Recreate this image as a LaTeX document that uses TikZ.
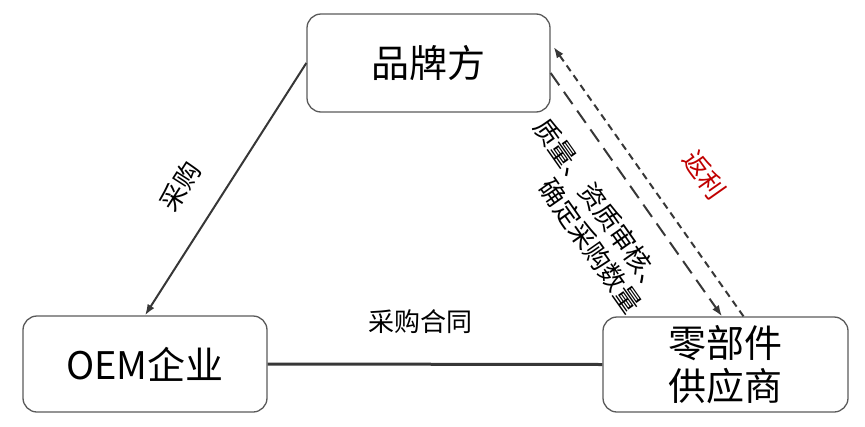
\documentclass[tikz,border=0pt]{standalone}
\usepackage{fontspec}
\setmainfont{Noto Sans CJK SC}
\usetikzlibrary{arrows.meta}
\definecolor{boxgray}{RGB}{90,90,90}
\definecolor{linegray}{RGB}{55,55,55}
\definecolor{rebatered}{RGB}{192,0,0}

\begin{document}
\begin{tikzpicture}[x=1pt,y=1pt,
  party/.style={draw=boxgray, line width=1.3pt, rounded corners=14pt, align=center,
    font=\fontsize{38}{43}\selectfont},
  tag/.style={font=\fontsize{26}{31}\selectfont, inner sep=0pt},
  flow/.style={draw=linegray, line width=2pt, -{Latex[length=11pt,width=8pt]}}]
  \useasboundingbox (0,0) rectangle (865,-426);
  % the three parties
  \node [party, minimum width=243pt, minimum height=98pt] (brand) at (428.5,-63) {品牌方};
  \node [party, minimum width=244pt, minimum height=96pt] (oem) at (145,-364) {OEM企业};
  \node [party, minimum width=245pt, minimum height=95pt] (supplier) at (725.5,-364.5) {零部件\\供应商};
  % links
  \draw [flow] (brand.west) -- node[tag, sloped, pos=0.575, above=27pt] {采购} (oem.north);
  \draw [draw=linegray, line width=3pt] (oem.east) -- node[tag, above=29pt, xshift=-15pt] {采购合同} (supplier.west);
  \draw [flow, dash pattern=on 15pt off 8pt] ([yshift=-10pt]brand.east)
    -- node[tag, sloped, pos=0.464, below=23pt, align=right] {质量、资质审核、\\确定采购数量} ([xshift=-3.5pt]supplier.north);
  \draw [flow, dash pattern=on 7pt off 5pt] ([xshift=18pt]supplier.north)
    -- node[tag, sloped, pos=0.419, above=37pt, text=rebatered] {返利} ([xshift=3pt,yshift=16pt]brand.east);
\end{tikzpicture}
\end{document}
